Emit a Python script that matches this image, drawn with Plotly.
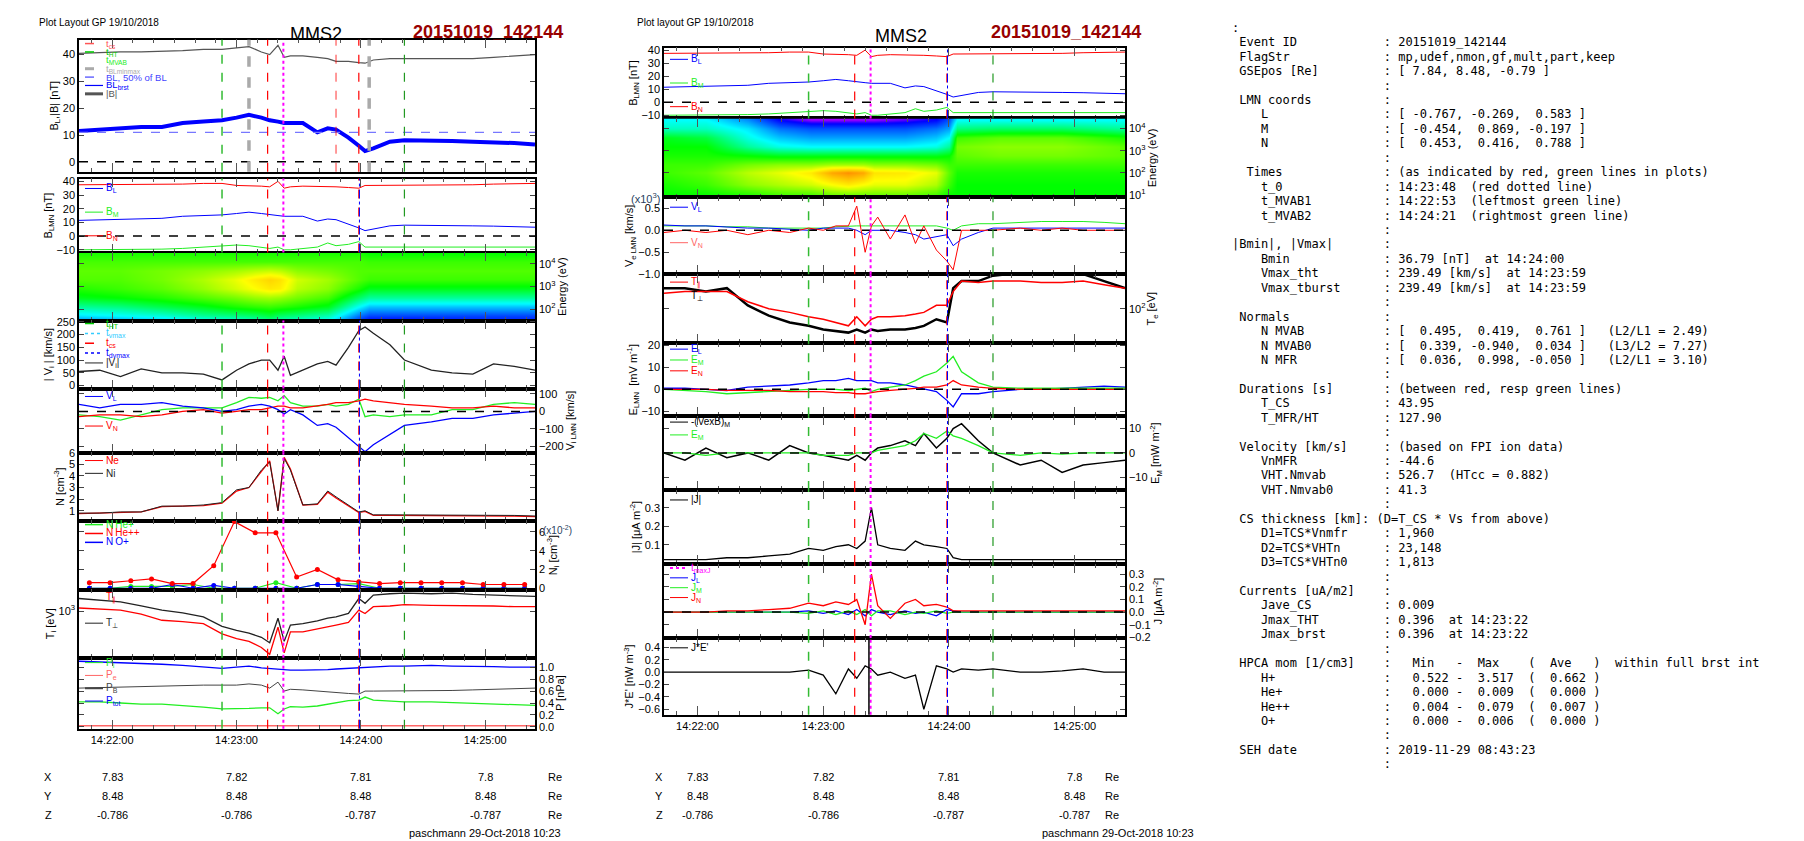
import datetime as dt
import plotly.graph_objects as go

W, H = 1804, 841
BASE = dt.datetime(2015, 10, 19, 14, 21, 44)

# ---------------- data ----------------
# sample times, seconds after 14:21:44
T_S = [0, 10, 20, 30, 40, 50, 60, 69, 76, 82, 88, 92, 96, 99, 102, 108, 115, 120,
       124, 130, 135, 138, 142, 150, 157, 170, 180, 190, 200, 210, 220]

B_TOT = [40.5, 40.8, 41, 41, 41.2, 41.5, 42, 42, 42.5, 43, 41, 40, 43.5, 39, 39.5, 39.5,
         39, 38.5, 37.5, 37.5, 37, 36.8, 38, 38.5, 38.5, 38.5, 38.3, 38.5, 39, 39.5, 40]
B_L = [11.5, 12, 12.5, 13, 13, 14.5, 15, 15.5, 16.5, 17.5, 16.5, 15.5, 15, 14.5, 14.5, 14.5,
       11, 12.5, 12, 9, 6, 4, 5, 7.5, 8, 8, 7.8, 7.5, 7.3, 7, 6.5]
B_M = [-10, -10, -10, -9.5, -9.5, -9, -8, -7, -6.5, -7, -8, -9, -8, -10, -10, -9,
       -8, -5, -7, -6, -4, -8, -8, -8, -8, -8, -8, -8, -8, -8, -8]
B_N = [37.5, 37.5, 38, 38, 38, 38, 38.5, 38.5, 37, 37, 36.5, 36, 40, 35, 36, 36.5,
       36.5, 36, 36, 35.5, 35, 37, 37, 37.5, 37.5, 37.5, 37.5, 37.5, 38, 38.5, 38.5]
BL_HALF = 11

VI_ABS = [55, 60, 35, 65, 50, 50, 45, 22, 60, 85, 100, 100, 60, 115, 40, 60, 85, 95,
          80, 150, 215, 230, 205, 160, 100, 60, 50, 45, 85, 75, 60]
VI_L = [40, 20, 40, 40, 50, 30, 20, 0, 10, 30, 40, 30, 10, -15, 10, -20, -80, -70,
        -90, -150, -200, -230, -190, -130, -80, -60, -40, -40, -20, -10, 0]
VI_M = [-20, -30, -50, -20, 10, 20, 20, 20, 50, 80, 75, 80, 60, 90, 50, 30, 30, 40,
        30, 40, 70, -30, -20, -30, -20, -20, 10, 10, 40, 50, 40]
VI_N = [-30, -20, -20, -30, -20, 0, 10, -10, 0, 10, 10, 20, 30, 30, 20, 20, 30, 40,
        50, 50, 60, 70, 60, 50, 40, 30, 20, 20, 30, 20, 20]

N_I = [0.8, 0.8, 0.9, 0.9, 1.4, 1.4, 1.5, 1.7, 2.8, 3.0, 4.5, 5.2, 1.0, 5.5, 4.5, 1.5,
       1.6, 2.7, 2.2, 1.5, 0.9, 1.0, 0.65, 0.65, 0.65, 0.65, 0.6, 0.6, 0.6, 0.6, 0.55]
N_E = [0.75, 0.8, 0.85, 0.9, 1.35, 1.4, 1.45, 1.65, 2.7, 3.0, 4.4, 5.3, 1.0, 5.6, 4.6, 1.5,
       1.55, 2.6, 2.1, 1.45, 0.85, 0.95, 0.6, 0.6, 0.6, 0.6, 0.55, 0.55, 0.55, 0.55, 0.5]

# HPCA minor ions, 10 s cadence, units of 1e-2 cm^-3
T_HPCA = [5, 15, 25, 35, 45, 55, 65, 75, 85, 95, 105, 115, 125, 135, 145, 155, 165, 175,
          185, 195, 205, 215]
N_HEPP = [0.6, 0.6, 0.8, 1.0, 0.5, 0.5, 2.4, 7.1, 5.9, 5.9, 1.2, 2.0, 0.9, 0.7, 0.5, 0.6,
          0.6, 0.6, 0.6, 0.4, 0.4, 0.4]
N_HEP = [0, 0, 0.2, 0.2, 0.2, 0.4, 0, 0, 0, 0.6, 0, 0.4, 0.4, 0.5, 0, 0, 0, 0, 0, 0, 0, 0]
N_OP = [0, 0, 0, 0, 0.4, 0, 0.3, 0, 0, 0, 0, 0.4, 0.4, 0.2, 0, 0, 0, 0, 0, 0, 0, 0]

TI_PERP = [1294, 1259, 1208, 1112, 1023, 968, 891, 735, 676, 640, 589, 527, 867, 542, 755, 776,
           820, 867, 891, 955, 1294, 1175, 1387, 1426, 1445, 1426, 1445, 1406, 1387, 1368, 1349]
TI_PAR = [1067, 1052, 1023, 942, 832, 809, 776, 631, 573, 542, 479, 417, 724, 429, 658, 658,
          695, 724, 755, 798, 1023, 955, 1096, 1112, 1143, 1127, 1127, 1112, 1112, 1096, 1096]

P_TOT = [1.1, 1.09, 1.08, 1.06, 1.05, 1.03, 1.0, 0.98, 1.0, 1.02, 0.99, 0.98, 0.97, 0.96, 0.95,
         0.95, 0.95, 0.96, 0.97, 0.98, 1.0, 1.0, 1.01, 1.02, 1.02, 1.03, 1.02, 1.02, 1.01, 1.0, 1.0]
P_B = [0.65, 0.66, 0.67, 0.68, 0.69, 0.7, 0.7, 0.7, 0.7, 0.72, 0.7, 0.65, 0.75, 0.6, 0.63, 0.62,
       0.6, 0.58, 0.57, 0.56, 0.55, 0.6, 0.6, 0.6, 0.6, 0.6, 0.61, 0.62, 0.63, 0.64, 0.65]
P_I = [0.42, 0.42, 0.40, 0.38, 0.38, 0.36, 0.33, 0.30, 0.30, 0.31, 0.32, 0.32, 0.22, 0.30, 0.34,
       0.33, 0.35, 0.38, 0.40, 0.44, 0.45, 0.50, 0.45, 0.43, 0.42, 0.42, 0.41, 0.40, 0.38, 0.37, 0.36]
P_E = [0.02] * 31

# ion spectrogram (log10 energy rows, normalised counts)
T_ISPEC = [0, 20, 40, 60, 75, 85, 92, 97, 105, 120, 135, 140, 160, 190, 220]
E_ISPEC = [1.5, 1.7, 2.1, 2.5, 2.9, 3.3, 3.7, 4.1, 4.5]
Z_ISPEC = [
    [0.2, 0.22, 0.25, 0.3, 0.32, 0.35, 0.38, 0.35, 0.33, 0.3, 0.12, 0.08, 0.08, 0.1, 0.1],
    [0.28, 0.3, 0.33, 0.38, 0.4, 0.42, 0.45, 0.42, 0.4, 0.36, 0.18, 0.14, 0.14, 0.14, 0.14],
    [0.38, 0.4, 0.44, 0.48, 0.52, 0.54, 0.55, 0.54, 0.52, 0.48, 0.3, 0.25, 0.25, 0.25, 0.25],
    [0.48, 0.5, 0.53, 0.57, 0.6, 0.63, 0.64, 0.63, 0.6, 0.56, 0.42, 0.38, 0.38, 0.38, 0.38],
    [0.53, 0.55, 0.58, 0.63, 0.68, 0.72, 0.75, 0.74, 0.66, 0.62, 0.52, 0.48, 0.48, 0.48, 0.48],
    [0.57, 0.57, 0.6, 0.65, 0.7, 0.75, 0.78, 0.76, 0.68, 0.64, 0.57, 0.55, 0.55, 0.55, 0.55],
    [0.58, 0.58, 0.6, 0.62, 0.64, 0.66, 0.67, 0.66, 0.62, 0.6, 0.57, 0.57, 0.57, 0.57, 0.57],
    [0.56, 0.56, 0.56, 0.56, 0.56, 0.56, 0.56, 0.56, 0.56, 0.56, 0.56, 0.55, 0.55, 0.55, 0.55],
    [0.52, 0.52, 0.52, 0.52, 0.52, 0.52, 0.52, 0.52, 0.52, 0.52, 0.52, 0.5, 0.5, 0.5, 0.5],
]

# electron spectrogram
T_ESPEC = [0, 20, 40, 55, 70, 80, 88, 95, 100, 115, 130, 136, 140, 160, 190, 220]
E_ESPEC = [1.0, 1.5, 2.0, 2.4, 2.8, 3.2, 3.6, 4.0, 4.4]
Z_ESPEC = [
    [0.5, 0.5, 0.52, 0.55, 0.55, 0.58, 0.58, 0.58, 0.58, 0.58, 0.55, 0.5, 0.5, 0.5, 0.5, 0.5],
    [0.52, 0.55, 0.62, 0.65, 0.68, 0.72, 0.75, 0.72, 0.7, 0.7, 0.65, 0.55, 0.5, 0.5, 0.5, 0.5],
    [0.55, 0.58, 0.66, 0.7, 0.75, 0.85, 0.88, 0.85, 0.76, 0.75, 0.7, 0.58, 0.52, 0.52, 0.52, 0.52],
    [0.55, 0.55, 0.6, 0.62, 0.62, 0.64, 0.64, 0.64, 0.62, 0.62, 0.6, 0.55, 0.55, 0.55, 0.55, 0.55],
    [0.52, 0.52, 0.5, 0.48, 0.48, 0.48, 0.48, 0.48, 0.48, 0.48, 0.48, 0.5, 0.58, 0.6, 0.6, 0.58],
    [0.5, 0.5, 0.38, 0.32, 0.3, 0.3, 0.3, 0.3, 0.3, 0.3, 0.32, 0.38, 0.6, 0.62, 0.62, 0.58],
    [0.48, 0.45, 0.32, 0.25, 0.22, 0.22, 0.22, 0.22, 0.22, 0.22, 0.25, 0.3, 0.55, 0.58, 0.58, 0.52],
    [0.35, 0.35, 0.28, 0.18, 0.15, 0.15, 0.15, 0.15, 0.15, 0.15, 0.18, 0.22, 0.4, 0.42, 0.42, 0.38],
    [0.3, 0.3, 0.2, 0.08, 0.03, 0.03, 0.03, 0.03, 0.03, 0.05, 0.08, 0.15, 0.3, 0.3, 0.3, 0.3],
]

VE_L = [0.12, 0.1, 0.1, 0.08, 0.05, 0.05, 0.03, 0.0, 0.05, 0.05, 0.05, 0.0, -0.1, 0.0, 0.0, 0.0,
        -0.05, -0.1, -0.2, -0.15, -0.1, -0.35, -0.2, -0.05, 0.05, 0.05, 0.05, 0.05, 0.05, 0.05, 0.05]
VE_M = [0.1, 0.1, 0.1, 0.08, 0.08, 0.05, 0.05, 0.05, 0.05, 0.08, 0.1, 0.1, 0.1, 0.1, 0.1, 0.1,
        0.1, 0.1, 0.1, 0.1, 0.05, 0.0, 0.1, 0.15, 0.15, 0.18, 0.2, 0.2, 0.2, 0.18, 0.15]
VE_N = [-0.05, 0, -0.05, 0, -0.1, 0, -0.05, 0.05, 0, 0.1, 0.1, 0.55, -0.5, 0.1, 0.3, -0.2,
        0.35, -0.3, 0.1, -0.45, -0.7, -0.9, 0.0, 0.0, 0.0, 0.05, 0.0, 0.05, 0.0, 0.0, 0.0]

TE_PERP = [151, 151, 141, 151, 107, 87, 76, 71, 66, 64, 62, 66, 62, 66, 64, 66, 66, 68, 71, 81,
           76, 151, 174, 174, 194, 205, 205, 200, 200, 174, 151]
TE_PAR = [136, 141, 141, 141, 115, 100, 93, 85, 81, 76, 71, 85, 71, 81, 85, 85, 87, 90, 93, 107,
          107, 141, 174, 169, 174, 174, 169, 169, 174, 162, 151]

E_L = [0.5, 0.5, 0, -0.5, 1, 1.5, 2, 3, 4, 4, 5, 4, 4, 4, 3, 3, 2, 1, 0, -1, -5, -8, -2, -2,
       -1, 0, 0, 0.5, 1, 1.5, 1]
E_M = [0, -0.5, -1, -2, -1.5, -1, -0.5, 0, 0, 0, -0.5, 0, 0.5, -1, 0, 1, 2, 4, 6, 8, 12, 15, 8,
       3, 1, 0.5, 0.5, 0.5, 0.5, 0.5, 0.5]
E_N = [0, 0, 0, -0.5, -0.5, -0.5, -1, -1, -1, -1.5, -1.5, -2, -2, -1.5, -1, -0.5, 0, 0.5, 1, 1,
       2, 4, 2, 1, 0.5, 0, 0, 0, 0, 0, 0]
VEXB_M = [0, -3, 2, -2, 0, -3, 3, 0, -1, -2, -3, -1, -3, 0, 2, 3, 5, 3, 8, 2, 6, 10, 12, 5, 0,
          -5, -3, -8, -5, -4, -3]
EM_SMOOTH = [0, 0, -1, 0, 0, 0, 0, 0, -1, -1, -1, 0, 0, 0, 1, 2, 3, 5, 8, 6, 9, 7, 6, 3, 0, -1,
             0, -0.5, 0, 0, 0]

J_ABS = [0.02, 0.02, 0.02, 0.03, 0.03, 0.04, 0.05, 0.08, 0.07, 0.09, 0.1, 0.08, 0.12, 0.3, 0.1,
         0.08, 0.07, 0.12, 0.1, 0.09, 0.08, 0.03, 0.02, 0.02, 0.02, 0.02, 0.02, 0.02, 0.02, 0.02, 0.02]
J_L = [0, 0, 0, 0, 0, 0, 0, 0.01, -0.01, 0.01, -0.02, 0.02, -0.03, 0.02, 0.0, -0.02, 0.01, -0.01,
       0.0, -0.03, 0.02, 0.01, 0, 0, 0, 0, 0, 0, 0, 0, 0]
J_M = [0, 0, 0, 0, 0, 0, 0, -0.01, 0.01, -0.02, 0.01, -0.02, 0.02, -0.03, 0.01, 0.01, -0.02, 0.0,
       -0.01, 0.01, -0.01, 0.0, 0, 0, 0, 0, 0, 0, 0, 0, 0]
J_N = [0, 0, 0, 0.01, 0.01, 0.02, 0.03, 0.07, 0.05, 0.08, 0.06, 0.1, -0.1, 0.3, 0.05, -0.05,
       0.07, 0.1, 0.05, 0.06, 0.04, 0.01, 0.01, 0.01, 0.01, 0.01, 0.01, 0.01, 0.01, 0.01, 0.01]
J_DOT_E = [0, 0, 0, 0, 0, 0, 0, 0.03, -0.05, -0.35, 0.05, -0.1, 0.1, 0.05, -0.05, 0.0, -0.1, -0.05,
           -0.6, 0.1, 0.05, 0.0, 0.05, 0.03, 0.05, 0.0, 0.0, 0.02, 0.05, 0.0, 0.0]

# event markers (seconds after 14:21:44)
T_MVAB1, T_MVAB2 = 69, 157
T_CS1, T_CS2 = 91, 135
T_MAXJ = 98.6
T_ZERO = 124
T_BLMINMAX = [82, 140]

POS_X = ["7.83", "7.82", "7.81", "7.8"]
POS_Y = ["8.48", "8.48", "8.48", "8.48"]
POS_Z = ["-0.786", "-0.786", "-0.787", "-0.787"]

INFO = [
    ":",
    " Event ID            : 20151019_142144",
    " FlagStr             : mp,udef,nmon,gf,mult,part,keep",
    " GSEpos [Re]         : [ 7.84, 8.48, -0.79 ]",
    "                     :",
    " LMN coords          :",
    "    L                : [ -0.767, -0.269,  0.583 ]",
    "    M                : [ -0.454,  0.869, -0.197 ]",
    "    N                : [  0.453,  0.416,  0.788 ]",
    "                     :",
    "  Times              : (as indicated by red, green lines in plots)",
    "    t_0              : 14:23:48  (red dotted line)",
    "    t_MVAB1          : 14:22:53  (leftmost green line)",
    "    t_MVAB2          : 14:24:21  (rightmost green line)",
    "                     :",
    "|Bmin|, |Vmax|       :",
    "    Bmin             : 36.79 [nT]  at 14:24:00",
    "    Vmax_tht         : 239.49 [km/s]  at 14:23:59",
    "    Vmax_tburst      : 239.49 [km/s]  at 14:23:59",
    "                     :",
    " Normals             :",
    "    N MVAB           : [  0.495,  0.419,  0.761 ]   (L2/L1 = 2.49)",
    "    N MVAB0          : [  0.339, -0.940,  0.034 ]   (L3/L2 = 7.27)",
    "    N MFR            : [  0.036,  0.998, -0.050 ]   (L2/L1 = 3.10)",
    "                     :",
    " Durations [s]       : (between red, resp green lines)",
    "    T_CS             : 43.95",
    "    T_MFR/HT         : 127.90",
    "                     :",
    " Velocity [km/s]     : (based on FPI ion data)",
    "    VnMFR            : -44.6",
    "    VHT.Nmvab        : 526.7  (HTcc = 0.882)",
    "    VHT.Nmvab0       : 41.3",
    "                     :",
    " CS thickness [km]: (D=T_CS * Vs from above)",
    "    D1=TCS*Vnmfr     : 1,960",
    "    D2=TCS*VHTn      : 23,148",
    "    D3=TCS*VHTn0     : 1,813",
    "                     :",
    " Currents [uA/m2]    :",
    "    Jave_CS          : 0.009",
    "    Jmax_THT         : 0.396  at 14:23:22",
    "    Jmax_brst        : 0.396  at 14:23:22",
    "                     :",
    " HPCA mom [1/cm3]    :   Min   -  Max    (  Ave   )  within full brst int",
    "    H+               :   0.522 -  3.517  (  0.662 )",
    "    He+              :   0.000 -  0.009  (  0.000 )",
    "    He++             :   0.004 -  0.079  (  0.007 )",
    "    O+               :   0.000 -  0.006  (  0.000 )",
    "                     :",
    " SEH date            : 2019-11-29 08:43:23",
    "                     :",
]

# ---------------- helpers ----------------
def t(s):
    return BASE + dt.timedelta(seconds=s)

def ts(lst):
    return [t(s) for s in lst]

def px(x):
    return x / W

def py(y):
    return 1 - y / H

FONT = "Liberation Sans, Arial, sans-serif"
RED, GREEN, BLUE, LIME = "#ff0000", "#00cc00", "#0000ff", "#22ee22"

LX = (71, 527)
MX = (656, 1117)
LROWS = [(26, 160), (167, 242), (242, 311), (311, 380), (380, 445), (445, 514),
         (514, 584), (584, 653), (653, 725)]
MROWS = [(34, 106), (106, 186), (186, 264), (264, 334), (334, 408), (408, 483),
         (483, 558), (558, 633), (633, 711)]

fig = go.Figure()
layout = {}
shapes = []
annots = []
panels = {}

def make_panel(k, xr, yr, side, yrange, title, tickvals=None, ticktext=None,
               log=False, fmt=None, bottom=False):
    xa = "xaxis" if k == 1 else f"xaxis{k}"
    ya = "yaxis" if k == 1 else f"yaxis{k}"
    layout[xa] = dict(
        domain=[px(xr[0]), px(xr[1])], anchor=f"y{'' if k == 1 else k}",
        type="date", range=[t(0), t(220)], showgrid=False, zeroline=False,
        showline=True, linecolor="black", linewidth=1.5, mirror="allticks",
        ticks="inside", ticklen=9, tickcolor="#555", tick0=t(16), dtick=60000,
        tickformat="%H:%M:%S", showticklabels=bottom,
        tickfont=dict(family=FONT, size=11, color="black"),
        minor=dict(ticks="inside", ticklen=4, dtick=10000, tick0=t(16), tickcolor="#555"),
    )
    yd = dict(
        domain=[py(yr[1]), py(yr[0])], anchor=f"x{'' if k == 1 else k}",
        range=yrange, side=side, showgrid=False, zeroline=False,
        showline=True, linecolor="black", linewidth=1.5, mirror="ticks",
        ticks="inside", ticklen=5, tickfont=dict(family=FONT, size=11, color="black"),
        title=dict(text=title, font=dict(family=FONT, size=11, color="black"), standoff=2),
    )
    if log:
        yd["type"] = "log"
    if tickvals is not None:
        yd["tickvals"] = tickvals
    if ticktext is not None:
        yd["ticktext"] = ticktext
    if fmt:
        yd["tickformat"] = fmt
    layout[ya] = yd
    panels[k] = (xr, yr)
    return (f"x{'' if k == 1 else k}", f"y{'' if k == 1 else k}")

def line(ax, x, y, color, width=1, dash=None, mode="lines", marker=None):
    fig.add_trace(go.Scatter(x=ts(x), y=y, xaxis=ax[0], yaxis=ax[1], mode=mode,
                             line=dict(color=color, width=width, dash=dash),
                             marker=marker, showlegend=False, hoverinfo="skip"))

def hline(ax, yv, color="black", dash="dash", width=1.5):
    shapes.append(dict(type="line", xref=f"{ax[0]} domain", yref=ax[1], x0=0, x1=1,
                       y0=yv, y1=yv, line=dict(color=color, dash=dash, width=width)))

def vline(ax, s, color, dash="dash", width=1.2):
    shapes.append(dict(type="line", xref=ax[0], yref=f"{ax[1]} domain", x0=t(s), x1=t(s),
                       y0=0, y1=1, line=dict(color=color, dash=dash, width=width)))

def std_markers(ax, dvmax=True):
    vline(ax, T_MVAB1, "#33bb33", "dash", 1.5)
    vline(ax, T_MVAB2, "#229922", "dash", 1.2)
    vline(ax, T_CS1, RED, "dash", 1.2)
    vline(ax, T_MAXJ, "#ff00ff", "dot", 2)
    vline(ax, T_CS2, RED, "dash", 1.2)
    if dvmax:
        vline(ax, T_CS2 + 0.3, BLUE, "dashdot", 1)

def key(k, items, step=11, top=6, size=10):
    xr, yr = panels[k]
    for i, (label, color, dash, w) in enumerate(items):
        yy = yr[0] + top + i * step
        if dash is not None:
            shapes.append(dict(type="line", xref="paper", yref="paper",
                               x0=px(xr[0] + 6), x1=px(xr[0] + 24), y0=py(yy), y1=py(yy),
                               line=dict(color=color, dash=dash, width=w)))
        annots.append(dict(x=px(xr[0] + 25), y=py(yy), xref="paper", yref="paper",
                           text=label, showarrow=False, xanchor="left", yanchor="middle",
                           font=dict(family=FONT, size=size, color=color)))

CSCALE = [[0, "#ff00ff"], [0.08, "#0000ff"], [0.3, "#00ffff"], [0.5, "#00ff00"],
          [0.72, "#ffff00"], [0.87, "#ff9900"], [1, "#ff0000"]]

def spectro(ax, tt, ee, zz):
    fig.add_trace(go.Heatmap(x=ts(tt), y=ee, z=zz, xaxis=ax[0], yaxis=ax[1],
                             colorscale=CSCALE, zmin=0, zmax=1, zsmooth="best",
                             showscale=False, hoverinfo="skip"))

# ---------------- left column ----------------
ax = make_panel(1, LX, LROWS[0], "left", [-3.7, 45.6], "B<sub>L</sub>,|B| [nT]", [0, 10, 20, 30, 40])
hline(ax, 0)
hline(ax, BL_HALF, "#7777ff", "dash", 1.2)
line(ax, T_S, B_TOT, "#555555", 1.2)
line(ax, T_S, B_L, BLUE, 4)
vline(ax, T_MVAB1, "#33bb33", "dash", 1.5)
vline(ax, T_MVAB2, "#229922", "dash", 1.2)
vline(ax, T_CS1, RED, "dash", 1.2)
vline(ax, T_MAXJ, "#ff00ff", "dot", 2)
vline(ax, T_ZERO, RED, "dash", 0.8)
vline(ax, T_CS2, RED, "dash", 1.2)
for s in T_BLMINMAX:
    vline(ax, s, "#aaaaaa", "dash", 3.5)
key(1, [("t<sub>cs</sub>", "#ff5555", "dash", 1.5), ("t<sub>HT</sub>", GREEN, "dash", 1.5),
        ("t<sub>MVAB</sub>", LIME, None, 1), ("t<sub>BLminmax</sub>", "#aaaaaa", "dash", 3),
        ("BL, 50% of BL", "#4444ff", "dash", 1.2), ("BL<sub>brst</sub>", BLUE, "solid", 1.2),
        ("|B|", "#555555", "solid", 3)], step=8.5, top=4, size=9.5)

ax = make_panel(2, LX, LROWS[1], "left", [-12, 42], "B<sub>LMN</sub> [nT]", [-10, 0, 10, 20, 30, 40])
hline(ax, 0)
line(ax, T_S, B_N, RED)
line(ax, T_S, B_L, BLUE)
line(ax, T_S, B_M, LIME)
std_markers(ax)
key(2, [("B<sub>L</sub>", BLUE, "solid", 1), ("B<sub>M</sub>", LIME, "solid", 1),
        ("B<sub>N</sub>", RED, "solid", 1)], step=24, top=10)

ax = make_panel(3, LX, LROWS[2], "right", [1.5, 4.5], "Energy (eV)", [2, 3, 4],
                ["10<sup>2</sup>", "10<sup>3</sup>", "10<sup>4</sup>"])
spectro(ax, T_ISPEC, E_ISPEC, Z_ISPEC)

ax = make_panel(4, LX, LROWS[3], "left", [-12, 255], "| V<sub>i</sub> | [km/s]", [0, 50, 100, 150, 200, 250])
line(ax, T_S, VI_ABS, "#222222", 1.3)
std_markers(ax)
key(4, [("t<sub>HT</sub>", GREEN, "dash", 1.5), ("t<sub>vmax</sub>", "#33ccff", "dot", 1.5),
        ("t<sub>cs</sub>", RED, "dash", 1.5), ("t<sub>dvmax</sub>", BLUE, "dot", 1.5),
        ("|V<sub>i</sub>|", "#222222", "solid", 1)], step=10, top=3)

ax = make_panel(5, LX, LROWS[4], "right", [-235, 130], "V<sub>i LMN</sub> [km/s]", [-200, -100, 0, 100])
hline(ax, 0)
line(ax, T_S, VI_M, LIME, 1.3)
line(ax, T_S, VI_N, RED, 1.3)
line(ax, T_S, VI_L, BLUE, 1.3)
std_markers(ax)
key(5, [("V<sub>L</sub>", BLUE, "solid", 1), ("V<sub>N</sub>", RED, "solid", 1)], step=30, top=8)

ax = make_panel(6, LX, LROWS[5], "left", [0.15, 6], "N [cm<sup>-3</sup>]", [1, 2, 3, 4, 5, 6])
line(ax, T_S, N_E, RED, 1.3)
line(ax, T_S, N_I, "#222222", 1)
std_markers(ax)
key(6, [("Ne", RED, "solid", 1), ("Ni", "#222222", "solid", 1)], step=13, top=8)

ax = make_panel(7, LX, LROWS[6], "right", [-0.15, 7.2], "N<sub>i</sub> [cm<sup>-3</sup>]", [0, 2, 4, 6])
mk = lambda c: dict(color=c, size=5)
line(ax, T_HPCA, N_HEP, LIME, 1.2, mode="lines+markers", marker=mk(LIME))
line(ax, T_HPCA, N_OP, BLUE, 1.2, mode="lines+markers", marker=mk(BLUE))
line(ax, T_HPCA, N_HEPP, RED, 1.2, mode="lines+markers", marker=mk(RED))
std_markers(ax)
key(7, [("N<sub> </sub>He+", LIME, "solid", 1.5), ("N<sub> </sub>He++", RED, "solid", 1.5),
        ("N<sub> </sub>O+", BLUE, "solid", 1.5)], step=9, top=4)
annots.append(dict(x=px(LX[1] + 6), y=py(LROWS[6][0] + 1), xref="paper", yref="paper",
                   text="(x10<sup>-2</sup>)", showarrow=False, xanchor="left", yanchor="top",
                   font=dict(family=FONT, size=10)))

ax = make_panel(8, LX, LROWS[7], "left", [2.59, 3.19], "T<sub>i</sub> [eV]", [1000], ["10<sup>3</sup>"], log=True)
line(ax, T_S, TI_PAR, RED, 1.3)
line(ax, T_S, TI_PERP, "#222222", 1.3)
std_markers(ax)
key(8, [("T<sub>∥</sub>", RED, None, 1), ("T<sub>⊥</sub>", "#222222", "solid", 1)], step=26, top=8)

ax = make_panel(9, LX, LROWS[8], "right", [-0.03, 1.16], "P [nPa]", [0, 0.2, 0.4, 0.6, 0.8, 1.0],
                fmt=".1f", bottom=True)
line(ax, T_S, P_E, "#ff6666", 1.5)
line(ax, T_S, P_I, LIME, 1.3)
line(ax, T_S, P_B, "#444444", 1)
line(ax, T_S, P_TOT, BLUE, 1.3)
std_markers(ax)
key(9, [("P<sub>i</sub>", LIME, "solid", 1), ("P<sub>e</sub>", "#ff6666", "solid", 1),
        ("P<sub>B</sub>", "#444444", "solid", 2), ("P<sub>tot</sub>", BLUE, "solid", 1)], step=13, top=5)

# ---------------- middle column ----------------
ax = make_panel(10, MX, MROWS[0], "left", [-12.5, 42], "B<sub>LMN</sub> [nT]", [-10, 0, 10, 20, 30, 40])
hline(ax, 0)
line(ax, T_S, B_N, RED)
line(ax, T_S, B_L, BLUE)
line(ax, T_S, B_M, LIME)
std_markers(ax)
key(10, [("B<sub>L</sub>", BLUE, "solid", 1), ("B<sub>M</sub>", LIME, "solid", 1),
         ("B<sub>N</sub>", RED, "solid", 1)], step=24, top=12)

ax = make_panel(11, MX, MROWS[1], "right", [0.9, 4.45], "Energy (eV)", [1, 2, 3, 4],
                ["10<sup>1</sup>", "10<sup>2</sup>", "10<sup>3</sup>", "10<sup>4</sup>"])
spectro(ax, T_ESPEC, E_ESPEC, Z_ESPEC)

ax = make_panel(12, MX, MROWS[2], "left", [-1.0, 0.75], "V<sub>e LMN</sub> [km/s]", [-1.0, -0.5, 0.0, 0.5], fmt=".1f")
line(ax, T_S, VE_M, LIME)
line(ax, T_S, VE_L, BLUE)
line(ax, T_S, VE_N, RED)
hline(ax, 0)
std_markers(ax)
key(12, [("V<sub>L</sub>", BLUE, "solid", 1), ("V<sub>N</sub>", "#ff6666", "solid", 1)], step=36, top=10)
annots.append(dict(x=px(MX[0] - 2), y=py(MROWS[2][0] + 1), xref="paper", yref="paper",
                   text="(x10<sup>3</sup>)", showarrow=False, xanchor="right", yanchor="middle",
                   font=dict(family=FONT, size=11)))

ax = make_panel(13, MX, MROWS[3], "right", [1.70, 2.30], "T<sub>e</sub> [eV]", [100], ["10<sup>2</sup>"], log=True)
line(ax, T_S, TE_PERP, "black", 2.5)
line(ax, T_S, TE_PAR, RED, 1.5)
std_markers(ax)
key(13, [("T<sub>∥</sub>", RED, "solid", 1), ("T<sub>⊥</sub>", "black", None, 1)], step=14, top=8)

ax = make_panel(14, MX, MROWS[4], "left", [-12.2, 21], "E<sub>LMN</sub>  [mV m<sup>-1</sup>]", [-10, 0, 10, 20])
line(ax, T_S, E_L, BLUE, 1.3)
line(ax, T_S, E_M, LIME, 1.3)
line(ax, T_S, E_N, RED, 1.3)
hline(ax, 0)
std_markers(ax)
key(14, [("E<sub>L</sub>", BLUE, "solid", 1), ("E<sub>M</sub>", LIME, "solid", 1),
         ("E<sub>N</sub>", RED, "solid", 1)], step=11, top=6)

ax = make_panel(15, MX, MROWS[5], "right", [-15.3, 15.1], "E<sub>M</sub> [mW m<sup>-2</sup>]", [-10, 0, 10])
line(ax, T_S, VEXB_M, "black", 1.5)
line(ax, T_S, EM_SMOOTH, LIME, 1.3)
hline(ax, 0)
std_markers(ax)
key(15, [("-(VexB)<sub>M</sub>", "black", "solid", 1), ("E<sub>M</sub>", LIME, "solid", 1)], step=13, top=6)

ax = make_panel(16, MX, MROWS[6], "left", [-0.004, 0.395], "|J| [μA m<sup>-2</sup>]", [0.1, 0.2, 0.3], fmt=".1f")
line(ax, T_S, J_ABS, "black", 1.3)
std_markers(ax)
key(16, [("|J|", "black", "solid", 1)], top=10)

ax = make_panel(17, MX, MROWS[7], "right", [-0.205, 0.38], "J [μA m<sup>-2</sup>]",
                [-0.2, -0.1, 0.0, 0.1, 0.2, 0.3], fmt=".1f")
line(ax, T_S, J_L, BLUE, 1.3)
line(ax, T_S, J_M, LIME, 1.3)
line(ax, T_S, J_N, RED, 1.3)
hline(ax, 0)
std_markers(ax)
key(17, [("t<sub>maxJ</sub>", "#ff00ff", "dot", 2), ("J<sub>L</sub>", BLUE, "solid", 1),
         ("J<sub>M</sub>", LIME, "solid", 1), ("J<sub>N</sub>", RED, "solid", 1)], step=10, top=4)

ax = make_panel(18, MX, MROWS[8], "left", [-0.69, 0.55], "J*E' [nW m<sup>-3</sup>]",
                [-0.6, -0.4, -0.2, 0.0, 0.2, 0.4], fmt=".1f", bottom=True)
line(ax, T_S, J_DOT_E, "black", 1.3)
std_markers(ax)
vline(ax, T_MAXJ - 0.8, "black", "solid", 1.5)
key(18, [("J*E'", "black", "solid", 1)], top=10)

# ---------------- texts ----------------
def text(x, y, s, size=11, color="black", anchor="left", bold=False, family=FONT):
    annots.append(dict(x=px(x), y=py(y), xref="paper", yref="paper", text=f"<b>{s}</b>" if bold else s,
                       showarrow=False, xanchor=anchor, yanchor="middle",
                       font=dict(family=family, size=size, color=color)))

for x0, lbl in [(29, "Plot Layout GP 19/10/2018"), (627, "Plot layout GP 19/10/2018")]:
    text(x0, 9, lbl, 10)
text(308, 20, "MMS2", 18, anchor="center")
text(480, 18, "20151019_142144", 18, "#990000", "center", True)
text(893, 22, "MMS2", 18, anchor="center")
text(1058, 18, "20151019_142144", 18, "#990000", "center", True)

for (x0, x1), (lx, rx, pend) in [(LX, (40, 547, 555)), (MX, (651, 1104, 1188))]:
    span = x1 - x0
    for i in range(4):
        xc = x0 + (16 + 60 * i) / 220 * span
        text(xc, 774, POS_X[i], 11, anchor="center")
        text(xc, 793, POS_Y[i], 11, anchor="center")
        text(xc, 813, POS_Z[i], 11, anchor="center")
    for lab, yy in [("X", 774), ("Y", 793), ("Z", 813)]:
        text(lx, yy, lab, 11, anchor="center")
        text(rx, yy, "Re", 11, anchor="center")
    text(pend, 831, "paschmann 29-Oct-2018 10:23", 11, anchor="right")

# info block, one line per annotation
for i, s in enumerate(INFO):
    if not s.strip():
        continue
    text(1222, 14 + i * 14.65, s.replace(" ", "\u00a0"), 12, family="DejaVu Sans Mono")

fig.update_layout(layout)
fig.update_layout(width=W, height=H, margin=dict(l=0, r=0, t=0, b=0),
                  paper_bgcolor="white", plot_bgcolor="white",
                  shapes=shapes, annotations=annots, showlegend=False)
fig.write_html("out.html")
